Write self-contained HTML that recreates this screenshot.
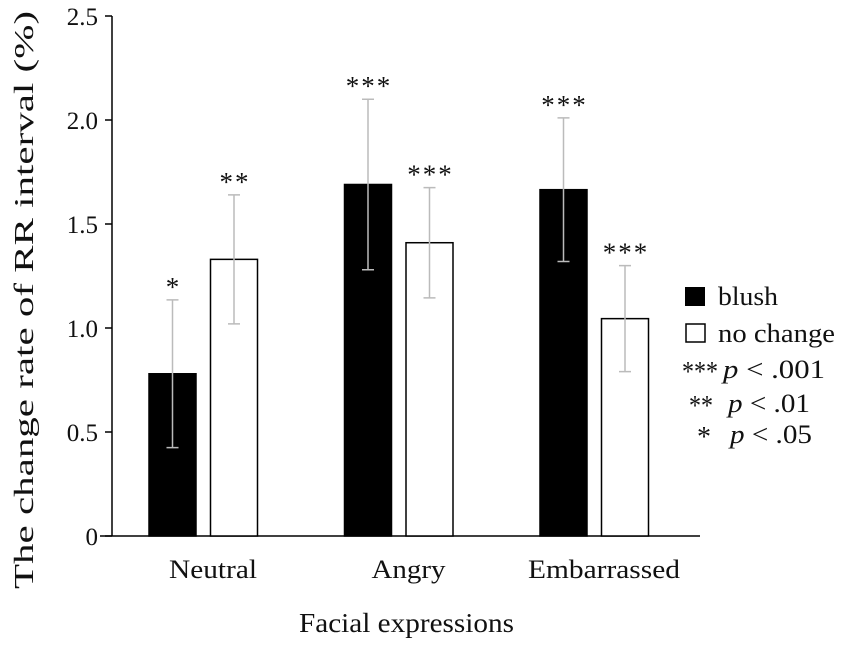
<!DOCTYPE html>
<html><head><meta charset="utf-8"><style>
body{margin:0;background:#fff}
svg text{font-family:"Liberation Serif",serif;fill:#111}
</style></head><body>
<svg width="843" height="648">
<g id="g"></g>
<text transform="translate(33,300) rotate(-90)" text-anchor="middle" font-size="27" textLength="578" lengthAdjust="spacingAndGlyphs">The change rate of RR interval (%)</text>
<text x="299" y="632" font-size="27" textLength="215" lengthAdjust="spacingAndGlyphs">Facial expressions</text>
<g font-size="26">
<rect x="685" y="287" width="20" height="19" fill="#000"/>
<text x="718" y="305" textLength="60" lengthAdjust="spacingAndGlyphs">blush</text>
<rect x="686" y="324" width="19" height="18" fill="#fff" stroke="#000" stroke-width="1.5"/>
<text x="718" y="342" textLength="117" lengthAdjust="spacingAndGlyphs">no change</text>
<text x="682" y="381" font-size="28" textLength="36" lengthAdjust="spacingAndGlyphs">***</text><text x="723" y="378" textLength="102" lengthAdjust="spacingAndGlyphs"><tspan font-style="italic">p</tspan> &lt; .001</text>
<text x="689" y="415" font-size="28" textLength="24" lengthAdjust="spacingAndGlyphs">**</text><text x="728" y="412" textLength="82" lengthAdjust="spacingAndGlyphs"><tspan font-style="italic">p</tspan> &lt; .01</text>
<text x="697" y="446" font-size="28">*</text><text x="730" y="443" textLength="82" lengthAdjust="spacingAndGlyphs"><tspan font-style="italic">p</tspan> &lt; .05</text>
</g>
</svg>
<script>
const categories=["Neutral","Angry","Embarrassed"];
const blush=[0.78,1.69,1.665];
const blushErr=[0.355,0.41,0.345];
const noChange=[1.33,1.41,1.045];
const noChangeErr=[0.31,0.265,0.255];
const blushSig=["*","***","***"];
const noChangeSig=["**","***","***"];
const yTicks=[0,0.5,1.0,1.5,2.0,2.5];
const yTickLabels=["0","0.5","1.0","1.5","2.0","2.5"];
const catLabelLen=[88,74,152];
const NS="http://www.w3.org/2000/svg";
const g=document.getElementById('g');
const y=v=>536-v*208;
const groupX=i=>203+i*195.5;
function mk(t,a,p){const e=document.createElementNS(NS,t);for(const k in a)e.setAttribute(k,a[k]);(p||g).appendChild(e);return e;}
const ax=mk('line',{x1:112,y1:16,x2:112,y2:536,stroke:'#000','stroke-width':1.5});


const bx=mk('line',{x1:100,y1:536,x2:700,y2:536,stroke:'#000','stroke-width':1.5});


yTicks.forEach((v,i)=>{
 const t=mk('line',{x1:105,x2:112,y1:y(v),y2:y(v),stroke:'#000','stroke-width':1.5});
 
 
 const l=mk('text',{x:98,y:y(v)+9,'text-anchor':'end','font-size':25});
 
 
 l.textContent=yTickLabels[i];
});
function bar(cx,v,e,fill,sig,name){
 const r=mk('rect',{x:cx-23.5,y:y(v),width:47,height:y(0)-y(v),fill:fill,stroke:'#000','stroke-width':1.5});
 
 
 const eb=mk('path',{d:`M${cx},${y(v-e)}V${y(v+e)}M${cx-6},${y(v-e)}H${cx+6}M${cx-6},${y(v+e)}H${cx+6}`,stroke:'#bbb','stroke-width':1.5,fill:'none'});
 
 
 const s=mk('text',{x:cx+1,y:y(v+e)-4,'text-anchor':'middle','font-size':27,'letter-spacing':2});
 
 
 s.textContent=sig;
}
categories.forEach((c,i)=>{
 const gx=groupX(i);
 bar(gx-30.5,blush[i],blushErr[i],'#000',blushSig[i],'bar-blush-'+c.toLowerCase());
 bar(gx+31,noChange[i],noChangeErr[i],'#fff',noChangeSig[i],'bar-no-change-'+c.toLowerCase());
 const l=mk('text',{x:gx+10,y:578,'text-anchor':'middle','font-size':26,textLength:catLabelLen[i],lengthAdjust:'spacingAndGlyphs'});
 
 
 l.textContent=c;
});
</script>
</body></html>
